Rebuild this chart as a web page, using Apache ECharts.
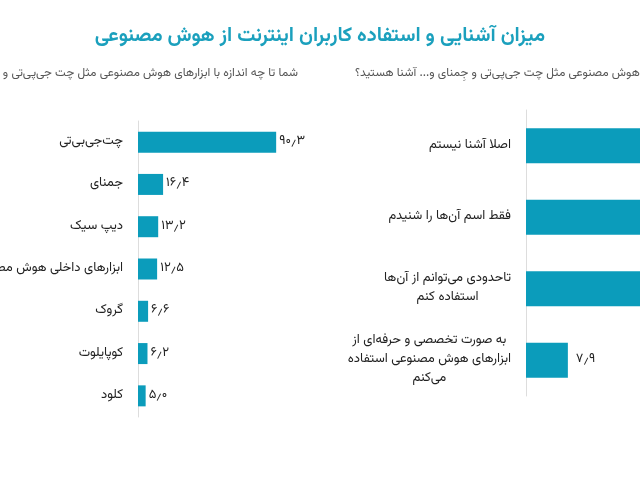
<!DOCTYPE html>
<html>
<head>
<meta charset="utf-8">
<script src="https://cdn.jsdelivr.net/npm/echarts@6/dist/echarts.min.js"></script>
<style>
  html, body { margin: 0; padding: 0; width: 640px; height: 480px; overflow: hidden; background: #fff; }
  #main { position: absolute; left: -250px; top: 0; width: 1140px; height: 480px; }
</style>
</head>
<body>
<div id="main" dir="rtl"></div>
<script>
// ابزارهای مورد استفاده
const toolNames = ["چت‌جی‌بی‌تی", "جمنای", "دیپ سیک", "ابزارهای داخلی هوش مصنوعی", "گروک", "کوپایلوت", "کلود"];
const toolValues = [90.3, 16.4, 13.2, 12.5, 6.6, 6.2, 5.0];

// میزان آشنایی
const levelNames = [
  "اصلا آشنا نیستم",
  "فقط اسم آن‌ها را شنیدم",
  "تاحدودی می‌توانم از آن‌ها\nاستفاده کنم",
  "به صورت تخصصی و حرفه‌ای از\nابزارهای هوش مصنوعی استفاده\nمی‌کنم"
];
const levelValues = [30.2, 34.5, 27.4, 7.9];

const titleText = "میزان آشنایی و استفاده کاربران اینترنت از هوش مصنوعی";
const leftSub = "شما تا چه اندازه با ابزارهای هوش مصنوعی مثل چت جی‌پی‌تی و جِمنای و... آشنا هستید؟";
const rightSub = "شما تا چه اندازه با ابزارهای هوش مصنوعی مثل چت جی‌پی‌تی و جِمنای و... آشنا هستید؟";

const font = "Vazirmatn, 'Noto Sans Arabic', 'DejaVu Sans', sans-serif";
const barColor = "#0b9cbb";
const faDigits = "۰۱۲۳۴۵۶۷۸۹";

function toFa(v) {
  return v.toFixed(1).replace(/\d/g, d => faDigits[d]).replace(".", "٫");
}

// هر خط برچسب وسط‌چین، کل بلوک راست‌چین
function centerLines(s) {
  return s.split("\n").map(l => "{c|" + l + "}").join("\n");
}

const chart = echarts.init(document.getElementById("main"));

const option = {
  backgroundColor: "#ffffff",
  textStyle: { fontFamily: font },
  title: [
    {
      text: titleText,
      left: "center",
      top: 28,
      padding: 0,
      textStyle: { color: "#1ba0bd", fontSize: 20, fontWeight: "bold", fontFamily: font }
    },
    {
      text: leftSub,
      right: 592,
      top: 68,
      padding: 0,
      textStyle: { color: "#555", fontSize: 12, fontWeight: "normal", fontFamily: font }
    },
    {
      text: rightSub,
      left: 605,
      top: 68,
      padding: 0,
      textStyle: { color: "#555", fontSize: 12, fontWeight: "normal", fontFamily: font }
    }
  ],
  grid: [
    { left: 388, top: 121, width: 153, height: 296 },
    { left: 776, top: 110, width: 212, height: 286 }
  ],
  xAxis: [
    { type: "value", gridIndex: 0, min: 0, max: 100, show: false },
    { type: "value", gridIndex: 1, min: 0, max: 40, show: false }
  ],
  yAxis: [
    {
      type: "category",
      gridIndex: 0,
      data: toolNames,
      inverse: true,
      axisTick: { show: false },
      axisLine: { show: true, lineStyle: { color: "#dddddd", width: 1 } },
      axisLabel: { color: "#222", fontSize: 13, margin: 15, fontFamily: font }
    },
    {
      type: "category",
      gridIndex: 1,
      data: levelNames,
      inverse: true,
      axisTick: { show: false },
      axisLine: { show: true, lineStyle: { color: "#dddddd", width: 1 } },
      axisLabel: {
        color: "#222",
        fontSize: 13,
        margin: 15,
        lineHeight: 19,
        fontFamily: font,
        formatter: centerLines,
        rich: { c: { align: "center", color: "#222", fontSize: 13, lineHeight: 19, fontFamily: font } }
      }
    }
  ],
  series: [
    {
      type: "bar",
      xAxisIndex: 0,
      yAxisIndex: 0,
      data: toolValues,
      barWidth: 21,
      itemStyle: { color: barColor },
      label: {
        show: true,
        position: "right",
        distance: 3,
        color: "#222",
        fontSize: 13,
        fontFamily: font,
        formatter: p => toFa(p.value)
      },
      silent: true
    },
    {
      type: "bar",
      xAxisIndex: 1,
      yAxisIndex: 1,
      data: levelValues,
      barWidth: 35,
      itemStyle: { color: barColor },
      label: {
        show: true,
        position: "right",
        distance: 8,
        color: "#222",
        fontSize: 13,
        fontFamily: font,
        formatter: p => toFa(p.value)
      },
      silent: true
    }
  ]
};

chart.setOption(option);
</script>
</body>
</html>
